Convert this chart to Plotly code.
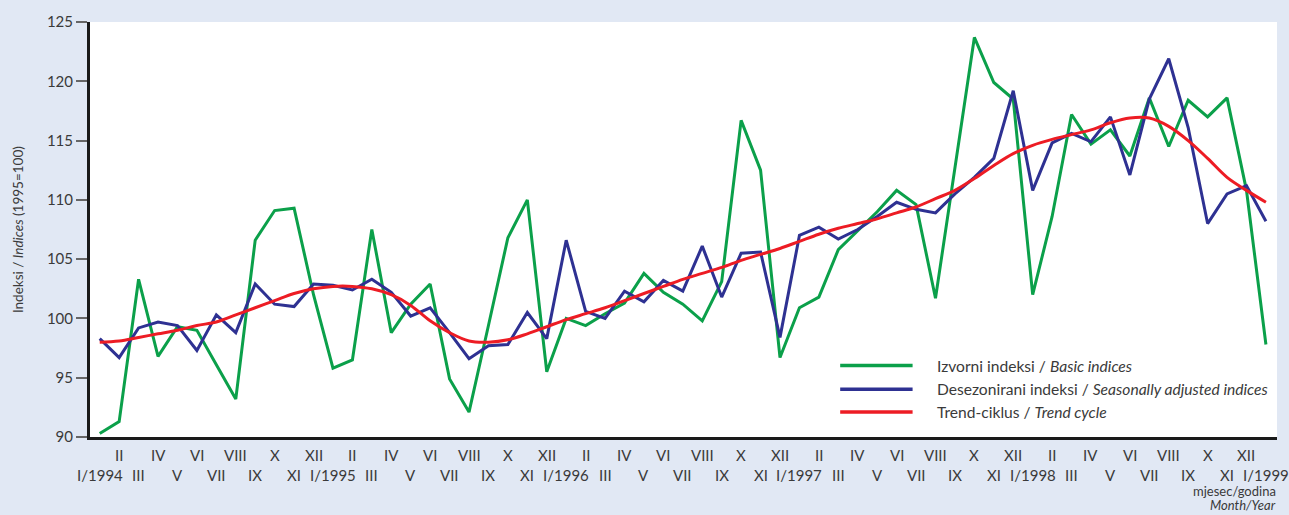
import plotly.graph_objects as go

# month labels I/1994 ... I/1999
roman = ["I", "II", "III", "IV", "V", "VI", "VII", "VIII", "IX", "X", "XI", "XII"]
years = [1994, 1995, 1996, 1997, 1998]
months = []
for y in years:
    for m in roman:
        months.append(f"I/{y}" if m == "I" else m)
months.append("I/1999")

basic = [
    90.3, 91.3, 103.3, 96.8, 99.3, 99.0, 96.1, 93.2, 106.6, 109.1, 109.3, 102.0,
    95.8, 96.5, 107.5, 98.8, 101.2, 102.9, 94.9, 92.1, 99.4, 106.8, 110.0, 95.5,
    100.0, 99.4, 100.4, 101.3, 103.8, 102.2, 101.2, 99.8, 103.1, 116.7, 112.5, 96.7,
    100.9, 101.8, 105.8, 107.4, 109.0, 110.8, 109.6, 101.7, 112.6, 123.7, 119.9, 118.5,
    102.0, 108.6, 117.2, 114.7, 115.9, 113.7, 118.6, 114.5, 118.4, 117.0, 118.6, 110.8,
    97.8,
]
seasonal = [
    98.3, 96.7, 99.2, 99.7, 99.4, 97.3, 100.3, 98.8, 102.9, 101.2, 101.0, 102.9,
    102.8, 102.4, 103.3, 102.2, 100.2, 100.9, 98.8, 96.6, 97.7, 97.8, 100.5, 98.3,
    106.6, 100.6, 100.0, 102.3, 101.4, 103.2, 102.3, 106.1, 101.8, 105.5, 105.6, 98.4,
    107.0, 107.7, 106.7, 107.5, 108.6, 109.8, 109.2, 108.9, 110.5, 111.9, 113.5, 119.2,
    110.8, 114.8, 115.6, 114.9, 117.0, 112.1, 118.5, 121.9, 116.1, 108.0, 110.5, 111.2,
    108.2,
]
trend = [
    98.0, 98.1, 98.4, 98.7, 99.0, 99.4, 99.7, 100.3, 100.9, 101.5, 102.1, 102.5,
    102.7, 102.7, 102.5, 102.0, 101.1, 99.8, 98.8, 98.1, 98.0, 98.2, 98.7, 99.3,
    99.9, 100.4, 100.9, 101.5, 102.1, 102.7, 103.3, 103.8, 104.3, 104.9, 105.4, 105.9,
    106.5, 107.1, 107.6, 108.0, 108.4, 108.9, 109.4, 110.1, 110.8, 111.8, 112.9, 113.9,
    114.6, 115.1, 115.5, 115.9, 116.5, 116.9, 116.9, 116.2, 115.0, 113.5, 111.9, 110.8,
    109.8,
]

series_names = [
    "Izvorni indeksi / <i>Basic indices</i>",
    "Desezonirani indeksi / <i>Seasonally adjusted indices</i>",
    "Trend-ciklus / <i>Trend cycle</i>",
]
colors = ["#0BA04A", "#2E3192", "#ED1C24"]

font = "Lato, 'Open Sans', sans-serif"
text_color = "#3a3a3a"
xs = list(range(len(months)))

fig = go.Figure()
for vals, name, col in zip([basic, seasonal, trend], series_names, colors):
    fig.add_trace(
        go.Scatter(
            x=xs,
            y=vals,
            mode="lines",
            name=name,
            line=dict(color=col, width=3, shape="spline" if vals is trend else "linear"),
            showlegend=False,
        )
    )

# two-row month labels
annotations = []
for i, lab in enumerate(months):
    annotations.append(
        dict(
            x=i, xref="x", y=-0.043 if i % 2 else -0.091, yref="paper",
            text=lab, showarrow=False, yanchor="middle",
            font=dict(size=15, color=text_color, family=font),
        )
    )

# legend drawn by hand to get long line samples
legend_y = [0.172, 0.115, 0.060]
shapes = []
for name, col, ly in zip(series_names, colors, legend_y):
    shapes.append(
        dict(type="line", xref="paper", yref="paper", x0=0.632, x1=0.693,
             y0=ly, y1=ly, line=dict(color=col, width=3.5))
    )
    annotations.append(
        dict(x=0.712, y=ly, xref="paper", yref="paper", text=name, showarrow=False,
             xanchor="left", yanchor="middle",
             font=dict(size=15.6, color=text_color, family=font))
    )

annotations += [
    dict(x=-0.061, y=0.5, xref="paper", yref="paper", textangle=-90,
         xanchor="center", yanchor="middle",
         text="Indeksi / <i>Indices</i> (1995=100)", showarrow=False,
         font=dict(size=13.5, color=text_color, family=font)),
    dict(x=1.001, y=-0.13, xref="paper", yref="paper", text="mjesec/godina",
         showarrow=False, xanchor="right", yanchor="middle",
         font=dict(size=13, color=text_color, family=font)),
    dict(x=1.001, y=-0.164, xref="paper", yref="paper", text="<i>Month/Year</i>",
         showarrow=False, xanchor="right", yanchor="middle",
         font=dict(size=13, color=text_color, family=font)),
]

fig.update_layout(
    width=1289,
    height=515,
    margin=dict(l=90, r=12, t=19, b=78),
    paper_bgcolor="#E1E8F4",
    plot_bgcolor="#FFFFFF",
    font=dict(family=font, color=text_color, size=15),
    annotations=annotations,
    shapes=shapes,
    showlegend=False,
)
fig.update_xaxes(
    range=[-0.5, 60.57],
    showticklabels=False,
    showgrid=False,
    zeroline=False,
    showline=True,
    linecolor="#1a1a1a",
    linewidth=3,
    ticks="",
)
fig.update_yaxes(
    range=[90, 125],
    tickvals=[90, 95, 100, 105, 110, 115, 120, 125],
    showgrid=False,
    zeroline=False,
    showline=True,
    linecolor="#1a1a1a",
    linewidth=3,
    ticks="outside",
    ticklen=11,
    tickcolor="#666666",
    tickwidth=1.5,
    tickfont=dict(size=15, color=text_color),
)

fig.write_html(
    "out.html",
    config={"displayModeBar": False},
    post_script="document.body.style.margin='0';document.body.style.overflow='hidden';",
)
